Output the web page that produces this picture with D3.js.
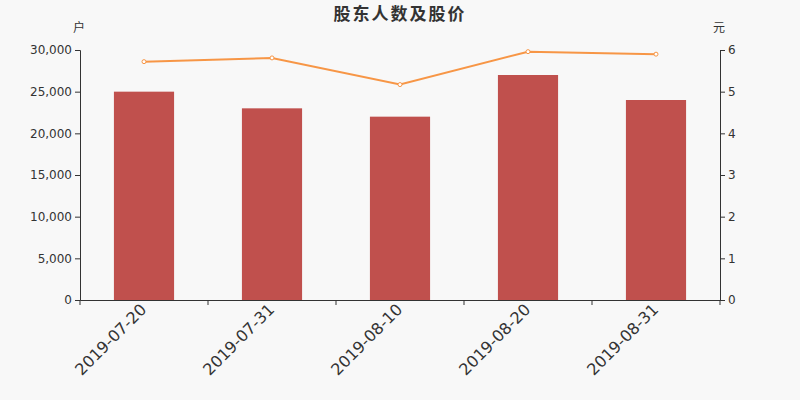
<!DOCTYPE html>
<html>
<head>
<meta charset="utf-8">
<script src="https://cdn.jsdelivr.net/npm/d3@7"></script>
<style>
  body { margin: 0; background: #f8f8f8; }
  svg { display: block; }
  .axis path, .axis line { stroke: #333; }
  .axis text { fill: #333; font-size: 12px; font-family: "DejaVu Sans", sans-serif; }
</style>
</head>
<body>
<div id="chart"></div>
<script>
// chart data
var dates = ["2019-07-20", "2019-07-31", "2019-08-10", "2019-08-20", "2019-08-31"];
var holders = [25000, 23000, 22000, 27000, 24000];
var prices = [5.72, 5.81, 5.17, 5.96, 5.90];
var leftTicks = [0, 5000, 10000, 15000, 20000, 25000, 30000];
var rightTicks = [0, 1, 2, 3, 4, 5, 6];

var svgWidth = 800;
var svgHeight = 400;
var margin = {top: 50, right: 80, bottom: 100, left: 80};
var width = svgWidth - margin.left - margin.right;
var height = svgHeight - margin.top - margin.bottom;

var svg = d3.select("#chart")
    .append("svg")
    .attr("width", svgWidth)
    .attr("height", svgHeight);

svg.append("rect")
    .attr("width", svgWidth)
    .attr("height", svgHeight)
    .attr("fill", "#f8f8f8");

var chartGroup = svg.append("g")
    .attr("transform", `translate(${margin.left}, ${margin.top})`);

var x = d3.scaleBand()
    .domain(dates)
    .range([0, width])
    .paddingInner(0.53)
    .paddingOuter(0.265);

var xTicks = d3.scaleBand().domain(dates).range([0, width]);

var yLeft = d3.scaleLinear().domain([0, 30000]).range([height, 0]);
var yRight = d3.scaleLinear().domain([0, 6]).range([height, 0]);

// bars
chartGroup.selectAll(".bar")
    .data(holders)
    .enter()
    .append("rect")
    .attr("class", "bar")
    .attr("x", (d, i) => x(dates[i]))
    .attr("y", d => yLeft(d))
    .attr("width", x.bandwidth())
    .attr("height", d => height - yLeft(d))
    .attr("fill", "#c0504d");

// x axis, ticks at band edges
var xAxis = chartGroup.append("g")
    .attr("class", "axis")
    .attr("transform", `translate(0, ${height})`)
    .call(d3.axisBottom(xTicks).tickSize(0).tickPadding(0));
xAxis.selectAll(".tick text").remove();
xAxis.selectAll(".edge")
    .data(d3.range(dates.length + 1))
    .enter()
    .append("line")
    .attr("x1", i => i * xTicks.step())
    .attr("x2", i => i * xTicks.step())
    .attr("y1", 0)
    .attr("y2", 5)
    .attr("stroke", "#333");
xAxis.selectAll(".lbl")
    .data(dates)
    .enter()
    .append("text")
    .attr("transform", d => `translate(${xTicks(d) + xTicks.bandwidth() / 2 - 5}, 2) rotate(-45)`)
    .attr("text-anchor", "end")
    .attr("dy", "0.75em")
    .style("font-size", "16px")
    .text(d => d);

chartGroup.append("g")
    .attr("class", "axis")
    .call(d3.axisLeft(yLeft).tickValues(leftTicks).tickSize(5).tickFormat(d3.format(",")));

chartGroup.append("g")
    .attr("class", "axis")
    .attr("transform", `translate(${width}, 0)`)
    .call(d3.axisRight(yRight).tickValues(rightTicks).tickSize(5).tickFormat(d3.format("d")));

// price line
var line = d3.line()
    .x((d, i) => x(dates[i]) + x.bandwidth() / 2)
    .y(d => yRight(d));

chartGroup.append("path")
    .datum(prices)
    .attr("d", line)
    .attr("fill", "none")
    .attr("stroke", "#f79646")
    .attr("stroke-width", 2);

chartGroup.selectAll(".pt")
    .data(prices)
    .enter()
    .append("circle")
    .attr("cx", (d, i) => x(dates[i]) + x.bandwidth() / 2)
    .attr("cy", d => yRight(d))
    .attr("r", 2)
    .attr("fill", "#fff")
    .attr("stroke", "#f79646")
    .attr("stroke-width", 1);

// unit labels and title
svg.append("text")
    .attr("x", 79).attr("y", 32)
    .attr("text-anchor", "middle")
    .attr("font-size", "12px")
    .attr("fill", "#333")
    .style("font-family", "'Noto Sans CJK SC', sans-serif")
    .text("户");

svg.append("text")
    .attr("x", 719).attr("y", 32)
    .attr("text-anchor", "middle")
    .attr("font-size", "12px")
    .attr("fill", "#333")
    .style("font-family", "'Noto Sans CJK SC', sans-serif")
    .text("元");

svg.append("text")
    .attr("x", 400).attr("y", 20)
    .attr("text-anchor", "middle")
    .attr("font-size", "17px")
    .attr("font-weight", "bold")
    .attr("letter-spacing", "2px")
    .attr("fill", "#333")
    .style("font-family", "'Noto Sans CJK SC', sans-serif")
    .text("股东人数及股价");
</script>
</body>
</html>
